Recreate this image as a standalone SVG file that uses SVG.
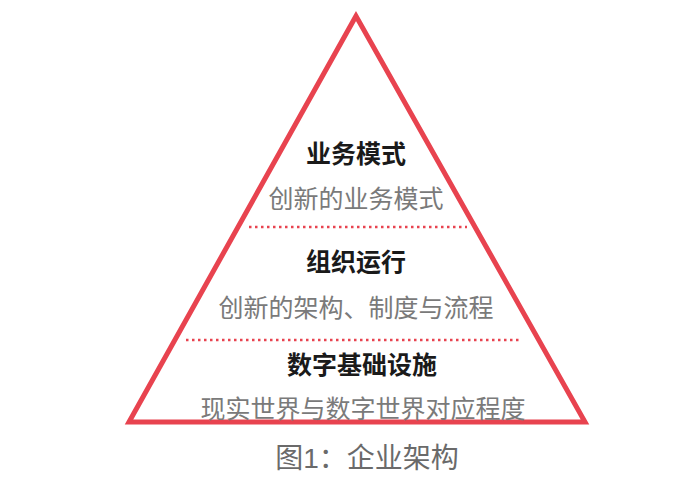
<svg xmlns="http://www.w3.org/2000/svg" width="700" height="491" viewBox="0 0 700 491">
<style>
.t{font-family:"Liberation Sans","Noto Sans CJK SC",sans-serif;text-anchor:middle}
.h{font-size:25px;font-weight:bold;fill:#1a1a1a}
.s{font-size:25px;fill:#7a7a7a}
.c{font-size:28px;fill:#6a6a6a}
.dot{stroke:#e8434f;stroke-width:2.5;stroke-dasharray:2.5 3.5;fill:none}
</style>
<rect width="700" height="491" fill="#ffffff"/>
<g id="pyramid">
<polygon points="356,16 129,422 585,422" fill="none" stroke="#e8434f" stroke-width="5" stroke-linejoin="miter"/>
</g>
<g id="dividers">
<line class="dot" x1="249" y1="227" x2="467" y2="227"/>
<line class="dot" x1="186" y1="340" x2="520" y2="340"/>
</g>
<g id="layer-business">
<text class="t h" x="356" y="163">业务模式</text>
<text class="t s" x="356" y="208">创新的业务模式</text>
</g>
<g id="layer-organization">
<text class="t h" x="356" y="271">组织运行</text>
<text class="t s" x="356" y="317">创新的架构、制度与流程</text>
</g>
<g id="layer-infrastructure">
<text class="t h" x="362" y="374">数字基础设施</text>
<text class="t s" x="363" y="418">现实世界与数字世界对应程度</text>
</g>
<g id="caption">
<text class="t c" x="367" y="468">图1：企业架构</text>
</g>
</svg>
